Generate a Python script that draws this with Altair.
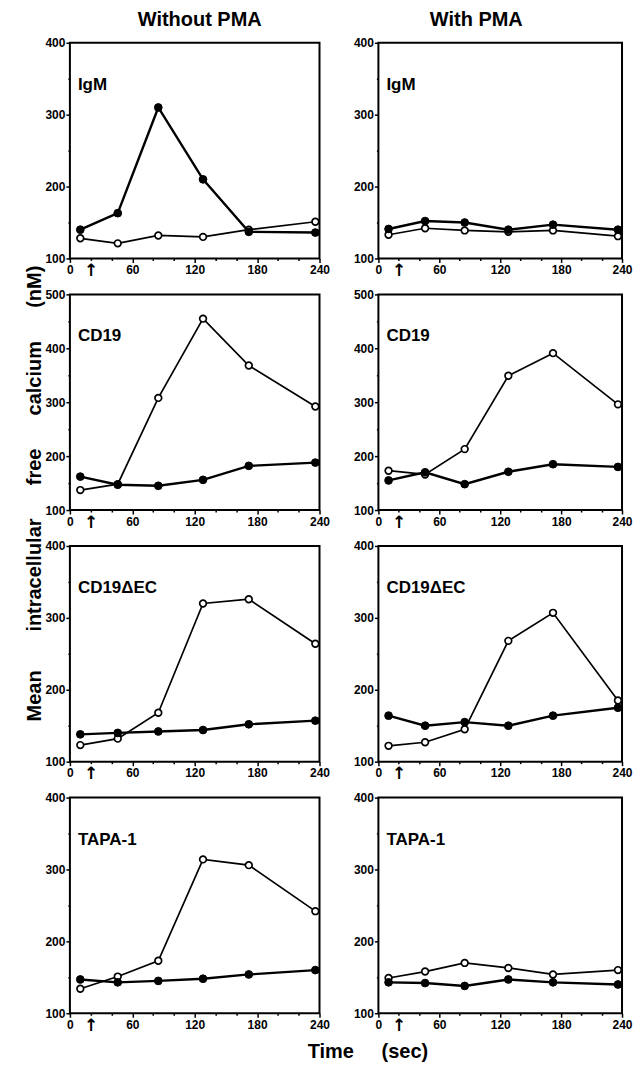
import altair as alt
import pandas as pd

# ---- data ----
times = [10, 46, 85, 128, 172, 236]

markers = ["IgM", "CD19", "CD19\u0394EC", "TAPA-1"]
conditions = ["Without PMA", "With PMA"]
y_max = [400, 500, 400, 400]

igm_without_filled = [140, 163, 310, 210, 137, 136]
igm_without_open = [128, 121, 132, 130, 140, 151]
igm_with_filled = [141, 152, 150, 140, 147, 140]
igm_with_open = [133, 142, 139, 137, 139, 131]

cd19_without_filled = [162, 147, 145, 156, 182, 188]
cd19_without_open = [137, 148, 308, 455, 368, 292]
cd19_with_filled = [155, 170, 148, 171, 185, 180]
cd19_with_open = [173, 166, 213, 349, 391, 296]

cd19dec_without_filled = [138, 140, 142, 144, 152, 157]
cd19dec_without_open = [123, 132, 168, 320, 326, 264]
cd19dec_with_filled = [164, 150, 155, 150, 164, 175]
cd19dec_with_open = [122, 127, 145, 268, 307, 185]

tapa_without_filled = [147, 143, 145, 148, 154, 160]
tapa_without_open = [134, 151, 173, 314, 306, 242]
tapa_with_filled = [143, 142, 138, 147, 143, 140]
tapa_with_open = [149, 158, 170, 163, 154, 160]

x_tick_values = [0, 20, 40, 60, 80, 100, 120, 140, 160, 180, 200, 220, 240]

series = {
    ("IgM", "Without PMA"): (igm_without_filled, igm_without_open),
    ("IgM", "With PMA"): (igm_with_filled, igm_with_open),
    ("CD19", "Without PMA"): (cd19_without_filled, cd19_without_open),
    ("CD19", "With PMA"): (cd19_with_filled, cd19_with_open),
    ("CD19\u0394EC", "Without PMA"): (cd19dec_without_filled, cd19dec_without_open),
    ("CD19\u0394EC", "With PMA"): (cd19dec_with_filled, cd19dec_with_open),
    ("TAPA-1", "Without PMA"): (tapa_without_filled, tapa_without_open),
    ("TAPA-1", "With PMA"): (tapa_with_filled, tapa_with_open),
}

FONT = "Liberation Sans"
W_LEFT, W_RIGHT, H = 250, 244, 216

NB = "\u00a0"
Y_TITLE = f"Mean{NB*7}intracellular{NB*6}free{NB*6}calcium{NB*6}(nM)"
X_TITLE = f"Time{NB*5}(sec)"


def panel(row, col):
    marker = markers[row]
    cond = conditions[col]
    filled, opened = series[(marker, cond)]
    ymax = y_max[row]
    df = pd.DataFrame({
        "time": times * 2,
        "value": filled + opened,
        "series": ["filled"] * len(times) + ["open"] * len(times),
    })

    x_axis_kw = dict(
        values=x_tick_values,
        labelExpr="datum.value == 20 ? '\u2191' : (datum.value % 60 == 0 ? datum.label : '')",
        labelFlush=False,
        labelOverlap=False,
        labelFont={"condition": {"test": "datum.value == 20", "value": "DejaVu Sans"}, "value": FONT},
        labelFontSize={"condition": {"test": "datum.value == 20", "value": 17}, "value": 12},
        tickSize={"condition": {"test": "datum.value % 60 == 0", "value": 4}, "value": 2},
        labelPadding=2,
        title=None,
    )
    if row == 3 and col == 0:
        x_axis_kw.update(
            title=X_TITLE, titleX=298, titleY=38, titleAlign="center",
            titleBaseline="middle", titleFontSize=20, titleFont=FONT,
            titleFontWeight="bold", titleColor="black",
        )
    y_vals = list(range(100, ymax + 1, 50))
    y_axis_kw = dict(
        values=y_vals,
        labelExpr="datum.value % 100 == 0 ? datum.label : ''",
        labelOverlap=False,
        labelFontSize=12,
        tickSize={"condition": {"test": "datum.value % 100 == 0", "value": 4}, "value": 2},
        labelPadding=1,
        title=None,
    )
    if row == 1 and col == 0:
        y_axis_kw.update(
            title=Y_TITLE, titleX=-35, titleY=199, titleAngle=270,
            titleAlign="center", titleBaseline="middle", titleFontSize=20,
            titleFont=FONT, titleFontWeight="bold", titleColor="black",
        )

    x = alt.X("time:Q", scale=alt.Scale(domain=[0, 240], nice=False, zero=False),
              axis=alt.Axis(**x_axis_kw))
    y = alt.Y("value:Q", scale=alt.Scale(domain=[100, ymax], nice=False, zero=False),
              axis=alt.Axis(**y_axis_kw))

    base = alt.Chart(df)
    line_f = base.transform_filter("datum.series == 'filled'").mark_line(
        color="black", strokeWidth=2.4).encode(x=x, y=y)
    line_o = base.transform_filter("datum.series == 'open'").mark_line(
        color="black", strokeWidth=1.7).encode(x=x, y=y)
    pts_o = base.transform_filter("datum.series == 'open'").mark_point(
        shape="circle", filled=True, fill="white", stroke="black", strokeWidth=1.7,
        size=45, opacity=1).encode(x=x, y=y)
    pts_f = base.transform_filter("datum.series == 'filled'").mark_point(
        shape="circle", filled=True, fill="black", stroke="black", strokeWidth=1,
        size=60, opacity=1).encode(x=x, y=y)
    label = alt.Chart(pd.DataFrame({"t": [marker]})).mark_text(
        align="left", baseline="middle", font=FONT, fontSize=17,
        fontWeight="bold", color="black").encode(
        x=alt.value(8), y=alt.value(42), text="t:N")

    props = dict(width=W_LEFT if col == 0 else W_RIGHT, height=H)
    if row == 0:
        props["title"] = alt.TitleParams(
            cond, font=FONT, fontSize=20, fontWeight="bold", color="black",
            anchor="middle", frame="group", dx=5 if col == 0 else -24, offset=7)
    return alt.layer(line_f, line_o, pts_o, pts_f, label).properties(**props)


panels = [panel(r, c) for r in range(4) for c in range(2)]

chart = alt.concat(
    *panels, columns=2, spacing={"row": 36, "column": 59}, bounds="flush"
).resolve_scale(x="independent", y="independent").properties(
    padding={"left": 15, "top": 0, "right": 0, "bottom": 0}
).configure_view(
    stroke="black", strokeWidth=2
).configure_axis(
    domain=False, labelFont=FONT, labelFontWeight="bold", labelColor="black",
    tickColor="black", tickWidth=1.5, grid=False,
)

chart.save("out.html", embed_options={"renderer": "svg", "actions": False})
